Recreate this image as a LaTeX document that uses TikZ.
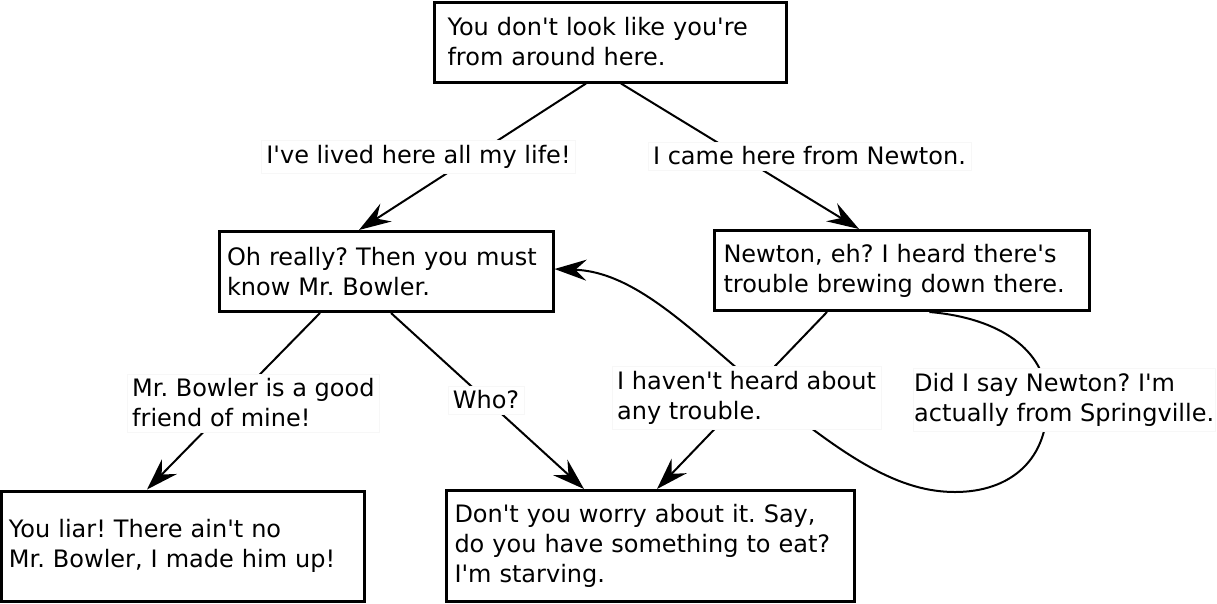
\documentclass[tikz,border=0pt]{standalone}
\usepackage{fontspec}
\setmainfont{DejaVu Sans}[Ligatures=TeXOff]
\usepackage{tikz}
\usetikzlibrary{arrows.meta}
\frenchspacing

\begin{document}
\begin{tikzpicture}[
                x=1pt, y=-1pt,
                font=\fontsize{24}{30}\selectfont,
                box/.style={rectangle, draw, line width=3pt, align=left, inner ysep=0pt},
                answer/.style={rectangle, draw=black!3, fill=white, align=left, inner sep=5pt},
                reply/.style={line width=2pt, -{Stealth[length=32pt, width=21pt, inset=11pt]}}
            ]
                \useasboundingbox (0,0) rectangle (1217,603);

                % Dialogue boxes
                \node[box, text width=325pt, inner xsep=13.5pt, minimum height=80pt] (greet) at (610,42) {You don't look like you're\\from around here.};
                \node[box, text width=318pt, inner xsep=8pt, minimum height=80pt] (bowler) at (386,271.5) {Oh really? Then you must\\know Mr. Bowler.};
                \node[box, text width=356pt, inner xsep=9.5pt, minimum height=80pt] (newton) at (901.5,270.5) {Newton, eh? I heard there's\\trouble brewing down there.};
                \node[box, text width=347pt, inner xsep=8pt, minimum height=110pt] (liar) at (182.5,546) {You liar! There ain't no\\Mr. Bowler, I made him up!};
                \node[box, text width=391pt, inner xsep=8.5pt, minimum height=111pt] (starving) at (650,546) {Don't you worry about it. Say,\\do you have something to eat?\\I'm starving.};

                % Edges
                \draw[reply] ([xshift=-24pt]greet.south) -- ([xshift=-27pt]bowler.north);
                \draw[reply] ([xshift=11pt]greet.south) -- ([xshift=-42.5pt]newton.north);
                \draw[reply] ([xshift=-66pt]bowler.south) -- ([xshift=-35.5pt]liar.north);
                \draw[reply] ([xshift=5pt]bowler.south) -- ([xshift=-66pt]starving.north);
                \draw[reply] ([xshift=-74.5pt]newton.south) -- ([xshift=7pt]starving.north);
                \draw[reply] ([xshift=28pt]newton.south) .. controls (1000,318) and (1045,350) .. (1047,398)
                    .. controls (1050,460) and (1010,492) .. (955,492)
                    .. controls (900,492) and (850,460) .. (775,400)
                    .. controls (700,340) and (640,272) .. ([yshift=2.5pt]bowler.east);

                % Answers
                \node[answer] (lived) at (418.5,157) {I've lived here all my life!};
                \node[answer] (came) at (809.5,156) {I came here from Newton.};
                \node[answer, anchor=west] (friend) at (127,403) {Mr. Bowler is a good\\friend of mine!};
                \node[answer] (who) at (486,400) {Who?};
                \node[answer, anchor=west] (unheard) at (612,398) {I haven't heard about\\any trouble.};
                \node[answer, anchor=west, inner xsep=1pt] (springville) at (913,400) {Did I say Newton? I'm\\actually from Springville.};
            \end{tikzpicture}
\end{document}
